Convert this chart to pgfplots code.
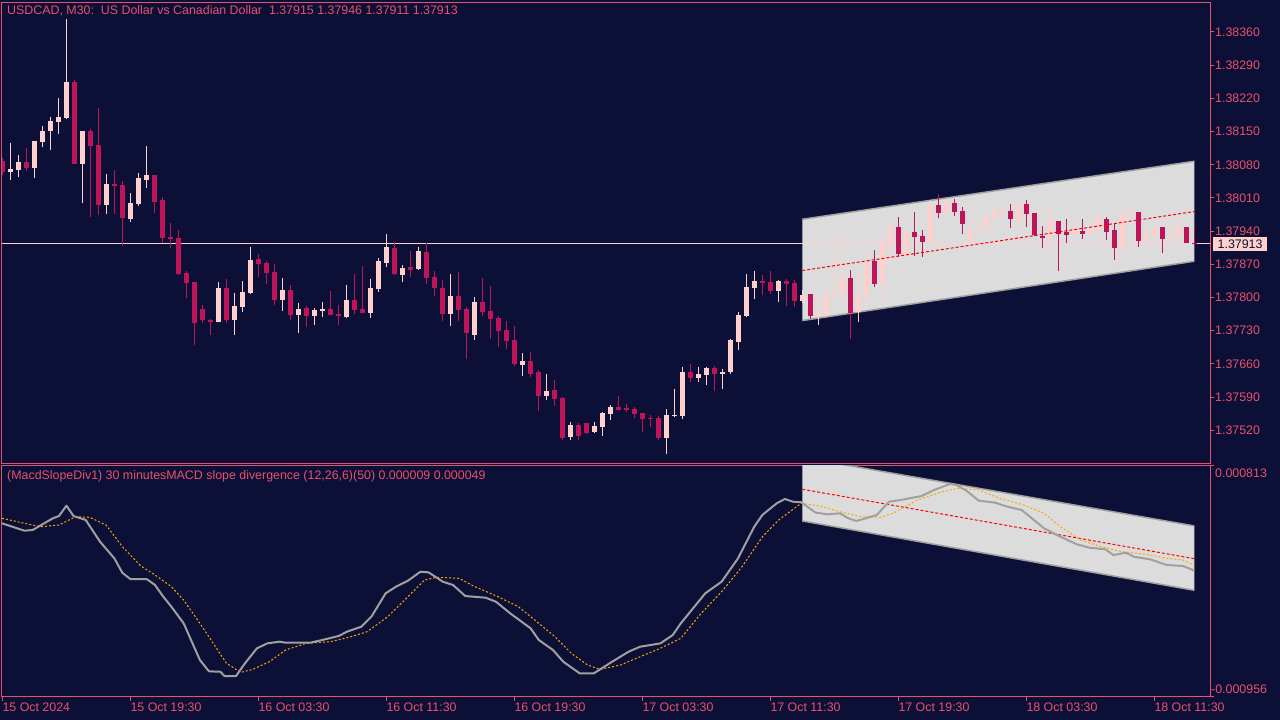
\documentclass[border=0pt]{standalone}
\usepackage{fontspec}
\setmainfont{Liberation Sans}
\usepackage{pgfplots}
\usepackage{pgfplotstable}
\pgfplotsset{compat=1.18}
\definecolor{bgc}{RGB}{12,16,54}
\definecolor{axc}{RGB}{233,80,110}
\definecolor{bullc}{RGB}{255,208,204}
\definecolor{bearc}{RGB}{192,20,90}
\definecolor{chanc}{RGB}{220,220,220}
\definecolor{edgec}{RGB}{160,160,160}
\definecolor{macdc}{RGB}{160,160,160}
\definecolor{sigc}{RGB}{255,165,0}
\newcommand{\mtfont}{\fontsize{12.4}{14}\selectfont}

% bullish candles (close >= open)
\pgfplotstableread{
k o h l c
1 1.38065 1.38125 1.38047 1.38071
2 1.38068 1.38100 1.38054 1.38085
4 1.38073 1.38130 1.38052 1.38130
5 1.38128 1.38161 1.38118 1.38151
6 1.38151 1.38180 1.38111 1.38172
7 1.38170 1.38220 1.38145 1.38180
8 1.38178 1.38388 1.38176 1.38254
10 1.38082 1.38151 1.37999 1.38151
13 1.37995 1.38060 1.37976 1.38039
16 1.37965 1.38020 1.37959 1.37999
17 1.37997 1.38062 1.37993 1.38052
18 1.38047 1.38120 1.38031 1.38059
27 1.37748 1.37832 1.37748 1.37820
29 1.37752 1.37809 1.37720 1.37782
30 1.37779 1.37834 1.37769 1.37811
31 1.37809 1.37906 1.37807 1.37879
35 1.37794 1.37841 1.37771 1.37815
37 1.37763 1.37788 1.37725 1.37775
39 1.37760 1.37777 1.37741 1.37773
40 1.37771 1.37790 1.37758 1.37775
43 1.37758 1.37826 1.37756 1.37794
46 1.37767 1.37839 1.37756 1.37820
47 1.37817 1.37883 1.37811 1.37876
48 1.37872 1.37935 1.37864 1.37906
50 1.37847 1.37868 1.37832 1.37862
52 1.37860 1.37906 1.37858 1.37898
56 1.37765 1.37849 1.37739 1.37803
59 1.37722 1.37801 1.37710 1.37790
65 1.37657 1.37682 1.37634 1.37666
68 1.37592 1.37638 1.37583 1.37602
71 1.37505 1.37537 1.37499 1.37531
74 1.37516 1.37537 1.37514 1.37528
75 1.37526 1.37558 1.37509 1.37556
76 1.37554 1.37573 1.37541 1.37569
83 1.37503 1.37564 1.37469 1.37552
84 1.37550 1.37607 1.37547 1.37552
85 1.37550 1.37653 1.37543 1.37642
87 1.37630 1.37653 1.37621 1.37638
88 1.37636 1.37653 1.37615 1.37651
90 1.37638 1.37649 1.37607 1.37642
91 1.37642 1.37712 1.37638 1.37710
92 1.37706 1.37769 1.37689 1.37763
93 1.37760 1.37849 1.37758 1.37822
94 1.37820 1.37855 1.37796 1.37834
97 1.37813 1.37836 1.37790 1.37834
100 1.37792 1.37815 1.37788 1.37805
102 1.37760 1.37801 1.37741 1.37767
103 1.37763 1.37830 1.37758 1.37805
104 1.37803 1.37940 1.37801 1.37809
105 1.37809 1.37931 1.37792 1.37841
107 1.37769 1.37858 1.37748 1.37805
108 1.37803 1.37898 1.37784 1.37872
110 1.37830 1.37925 1.37794 1.37917
111 1.37914 1.37973 1.37874 1.37948
113 1.37889 1.37942 1.37883 1.37938
116 1.37917 1.38005 1.37917 1.37995
118 1.37978 1.38005 1.37978 1.38001
121 1.37919 1.37967 1.37917 1.37942
122 1.37942 1.37963 1.37940 1.37946
123 1.37944 1.37978 1.37942 1.37969
124 1.37969 1.37988 1.37946 1.37984
125 1.37978 1.37992 1.37961 1.37984
127 1.37963 1.38001 1.37952 1.37997
131 1.37927 1.37992 1.37889 1.37963
134 1.37931 1.37973 1.37931 1.37946
136 1.37935 1.37957 1.37931 1.37948
137 1.37942 1.37976 1.37925 1.37967
140 1.37904 1.37988 1.37896 1.37973
141 1.37973 1.38007 1.37967 1.37980
143 1.37919 1.37948 1.37906 1.37931
144 1.37931 1.37952 1.37921 1.37946
146 1.37925 1.37961 1.37914 1.37931
147 1.37927 1.37973 1.37925 1.37950
}\bull

% bearish candles (close < open)
\pgfplotstableread{
k o h l c
0 1.38087 1.38094 1.38058 1.38065
3 1.38085 1.38115 1.38066 1.38073
9 1.38254 1.38258 1.38081 1.38082
11 1.38151 1.38155 1.37970 1.38120
12 1.38121 1.38199 1.37973 1.37995
14 1.38040 1.38068 1.37976 1.38035
15 1.38037 1.38045 1.37909 1.37968
19 1.38059 1.38059 1.37978 1.38002
20 1.38005 1.38012 1.37914 1.37925
21 1.37928 1.37957 1.37904 1.37923
22 1.37926 1.37942 1.37847 1.37849
23 1.37851 1.37855 1.37798 1.37831
24 1.37832 1.37832 1.37699 1.37746
25 1.37775 1.37784 1.37746 1.37752
26 1.37753 1.37754 1.37722 1.37748
28 1.37820 1.37839 1.37746 1.37752
32 1.37881 1.37891 1.37843 1.37870
33 1.37872 1.37876 1.37828 1.37851
34 1.37853 1.37870 1.37784 1.37794
36 1.37815 1.37826 1.37752 1.37763
38 1.37777 1.37782 1.37737 1.37760
41 1.37775 1.37813 1.37763 1.37763
42 1.37765 1.37784 1.37741 1.37760
44 1.37794 1.37849 1.37765 1.37773
45 1.37775 1.37866 1.37767 1.37767
49 1.37904 1.37917 1.37847 1.37849
51 1.37864 1.37898 1.37843 1.37858
53 1.37896 1.37914 1.37828 1.37841
54 1.37843 1.37855 1.37803 1.37820
55 1.37820 1.37836 1.37750 1.37765
57 1.37803 1.37853 1.37750 1.37773
58 1.37775 1.37779 1.37670 1.37725
60 1.37790 1.37841 1.37760 1.37769
61 1.37771 1.37824 1.37712 1.37754
62 1.37756 1.37760 1.37695 1.37729
63 1.37731 1.37750 1.37691 1.37708
64 1.37710 1.37739 1.37655 1.37659
66 1.37666 1.37685 1.37632 1.37638
67 1.37642 1.37647 1.37560 1.37592
69 1.37604 1.37626 1.37571 1.37585
70 1.37588 1.37590 1.37499 1.37503
72 1.37531 1.37535 1.37499 1.37509
73 1.37535 1.37535 1.37512 1.37514
77 1.37569 1.37592 1.37562 1.37562
78 1.37566 1.37575 1.37558 1.37562
79 1.37564 1.37569 1.37545 1.37554
80 1.37556 1.37556 1.37516 1.37543
81 1.37545 1.37552 1.37526 1.37543
82 1.37545 1.37550 1.37499 1.37503
86 1.37642 1.37659 1.37621 1.37630
89 1.37651 1.37655 1.37602 1.37638
95 1.37834 1.37847 1.37805 1.37830
96 1.37832 1.37855 1.37807 1.37813
98 1.37834 1.37839 1.37782 1.37828
99 1.37830 1.37836 1.37779 1.37792
101 1.37807 1.37807 1.37755 1.37760
106 1.37841 1.37858 1.37712 1.37767
109 1.37876 1.37900 1.37822 1.37828
112 1.37948 1.37969 1.37885 1.37891
114 1.37938 1.37980 1.37887 1.37927
115 1.37929 1.37942 1.37885 1.37917
117 1.37995 1.38018 1.37967 1.37978
119 1.37999 1.38007 1.37971 1.37980
120 1.37982 1.37990 1.37935 1.37954
126 1.37982 1.37997 1.37946 1.37965
128 1.37997 1.38005 1.37948 1.37976
129 1.37978 1.37978 1.37929 1.37931
130 1.37929 1.37950 1.37904 1.37925
132 1.37961 1.37961 1.37855 1.37933
133 1.37938 1.37965 1.37914 1.37931
135 1.37940 1.37965 1.37923 1.37935
138 1.37965 1.37969 1.37921 1.37938
139 1.37942 1.37957 1.37879 1.37904
142 1.37980 1.37980 1.37906 1.37919
145 1.37948 1.37948 1.37893 1.37923
148 1.37948 1.37948 1.37914 1.37914
149 1.37915 1.37946 1.37911 1.37913
}\bear

% MACD main line
\pgfplotstableread{
x v
-0.04 0.000372
2.77 0.000315
3.80 0.000321
6.33 0.000411
7.08 0.000428
8.02 0.000508
8.90 0.000428
10.42 0.000398
12.21 0.000231
14.00 0.000103
15.00 -0.000008
16.03 -0.000058
18.08 -0.000058
19.08 -0.000102
20.12 -0.000192
21.13 -0.000269
22.67 -0.000397
23.68 -0.000538
24.70 -0.000679
25.83 -0.000766
27.26 -0.000769
27.77 -0.000802
29.21 -0.000802
30.33 -0.000704
31.83 -0.000589
33.12 -0.000551
34.66 -0.000538
35.42 -0.000546
38.46 -0.000546
40.00 -0.000525
42.06 -0.000494
43.08 -0.000461
44.86 -0.000423
46.13 -0.000346
47.92 -0.000166
49.21 -0.000115
50.71 -0.000069
52.26 0.000000
53.28 -0.000005
55.07 -0.000077
56.33 -0.000102
57.87 -0.000187
60.42 -0.000200
61.71 -0.000231
63.48 -0.000320
66.03 -0.000435
67.06 -0.000525
68.83 -0.000602
70.12 -0.000692
72.16 -0.000781
73.95 -0.000781
76.23 -0.000692
78.28 -0.000615
79.71 -0.000577
82.26 -0.000551
83.80 -0.000487
84.81 -0.000397
87.87 -0.000166
89.91 -0.000077
91.96 0.000103
93.99 0.000346
95.00 0.000436
96.80 0.000526
97.82 0.000559
98.83 0.000538
99.86 0.000534
101.65 0.000454
103.18 0.000441
104.71 0.000449
105.73 0.000411
106.75 0.000390
107.51 0.000403
109.30 0.000436
110.83 0.000538
112.36 0.000552
114.91 0.000582
116.45 0.000628
118.48 0.000675
119.25 0.000667
120.52 0.000623
122.06 0.000546
124.10 0.000531
125.62 0.000500
127.41 0.000475
128.68 0.000411
130.21 0.000334
132.26 0.000269
134.30 0.000211
135.83 0.000185
137.87 0.000172
138.90 0.000128
140.42 0.000146
141.45 0.000115
143.48 0.000095
145.52 0.000052
147.57 0.000044
149.00 0.000009
}\macd

% signal line
\pgfplotstableread{
x v
-0.04 0.000411
2.77 0.000372
4.81 0.000346
7.08 0.000359
9.15 0.000423
10.93 0.000418
12.96 0.000359
15.01 0.000192
17.31 0.000044
19.08 -0.000025
21.13 -0.000115
22.67 -0.000218
24.70 -0.000397
26.23 -0.000538
28.02 -0.000704
29.81 -0.000774
31.33 -0.000751
33.38 -0.000692
35.42 -0.000602
37.96 -0.000551
41.03 -0.000538
43.58 -0.000500
45.62 -0.000461
48.18 -0.000346
50.71 -0.000192
52.77 -0.000064
54.30 -0.000043
57.11 -0.000051
58.90 -0.000110
61.96 -0.000192
64.51 -0.000269
66.55 -0.000371
69.08 -0.000500
71.13 -0.000628
73.18 -0.000718
74.71 -0.000751
77.26 -0.000718
79.71 -0.000654
82.26 -0.000589
84.81 -0.000512
87.36 -0.000320
89.91 -0.000154
92.46 0.000038
95.01 0.000269
97.06 0.000398
99.86 0.000526
102.16 0.000505
104.71 0.000461
107.26 0.000423
109.81 0.000418
111.33 0.000449
114.41 0.000552
117.46 0.000615
119.51 0.000641
122.06 0.000628
124.61 0.000565
127.67 0.000513
130.21 0.000449
132.26 0.000346
134.81 0.000244
137.36 0.000192
139.91 0.000154
142.97 0.000134
145.52 0.000103
147.57 0.000090
149.00 0.000049
}\signal

\begin{document}
\begin{tikzpicture}
\fill[bgc] (0,0) rectangle (1280pt,720pt);
\pgfplotsset{
  mtaxis/.style={
    scale only axis, width=1208pt,
    xmin=-0.041, xmax=150.96,
    axis line style={axc, line width=1pt},
    tick style={axc, line width=1pt},
    tick align=outside, major tick length=4pt,
    ytick pos=right, yticklabel pos=right,
    ticklabel style={text=axc, font=\mtfont},
    yticklabel style={anchor=west, inner sep=0pt, xshift=1pt},
    scaled y ticks=false,
    clip mode=individual,
  },
  wick/.style={draw=none, mark=none, forget plot, error bars/.cd, y dir=plus, y explicit, error mark=none,
    error bar style={line width=1pt, draw=#1, solid}},
  body/.style={draw=none, mark=none, forget plot, error bars/.cd, y dir=plus, y explicit, error mark=none,
    error bar style={line width=5pt, draw=#1, solid}},
}
% ---------- price panel ----------
\begin{axis}[mtaxis, at={(2pt,256.7pt)}, anchor=south west, height=461pt,
  ymin=1.374504, ymax=1.384226,
  xtick=\empty,
  ytick={1.3752,1.3759,1.3766,1.3773,1.3780,1.3787,1.3794,1.3801,1.3808,1.3815,1.3822,1.3829,1.3836},
  yticklabels={1.37520,1.37590,1.37660,1.37730,1.37800,1.37870,1.37940,1.38010,1.38080,1.38150,1.38220,1.38290,1.38360},
]
\addplot[fill=chanc, draw=none] coordinates {(100,1.37965) (149,1.380874) (149,1.378765) (100,1.377514)} -- cycle;
\addplot[edgec, line width=1.5pt] coordinates {(100,1.37965) (149,1.380874)};
\addplot[edgec, line width=1.5pt] coordinates {(100,1.377514) (149,1.378765)};
\addplot[bullc, line width=1pt] coordinates {(-0.041,1.37913) (150.96,1.37913)};
\addplot[wick=bullc] table[x=k, y=l, y error plus expr=\thisrow{h}-\thisrow{l}] {\bull};
\addplot[body=bullc] table[x=k, y=o, y error plus expr={max(\thisrow{c}-\thisrow{o},0.000021)}] {\bull};
\addplot[wick=bearc] table[x=k, y=l, y error plus expr=\thisrow{h}-\thisrow{l}] {\bear};
\addplot[body=bearc] table[x=k, y=c, y error plus expr={max(\thisrow{o}-\thisrow{c},0.000021)}] {\bear};
\addplot[red, line width=1pt, dash pattern=on 3pt off 2pt] coordinates {(100,1.378569) (149,1.379813)};
\node[anchor=west, fill=bullc, text=bgc, font=\mtfont, inner xsep=4.5pt, inner ysep=0pt, minimum height=14pt]
  at (axis cs:150.96,1.37913) [xshift=3pt] {1.37913};
\end{axis}
% ---------- MACD panel ----------
\begin{axis}[mtaxis, at={(2pt,23.3pt)}, anchor=south west, height=231pt,
  ymin=-0.000961, ymax=0.000815,
  xtick={0,16,32,48,64,80,96,112,128,144},
  xticklabels={15 Oct 2024,15 Oct 19:30,16 Oct 03:30,16 Oct 11:30,16 Oct 19:30,17 Oct 03:30,17 Oct 11:30,17 Oct 19:30,18 Oct 03:30,18 Oct 11:30},
  xtick pos=left, xticklabel pos=left,
  xticklabel style={anchor=north west, inner sep=0pt, xshift=0pt, yshift=-2pt},
  ytick={-0.000956,0.000813}, yticklabels={},
]
\addplot[fill=chanc, draw=none] coordinates {(100,0.000878) (149,0.000352) (149,-0.000143) (100,0.000390)} -- cycle;
\addplot[edgec, line width=1.5pt] coordinates {(100,0.000878) (149,0.000352)};
\addplot[edgec, line width=1.5pt] coordinates {(100,0.000390) (149,-0.000143)};
\addplot[red, line width=1pt, dash pattern=on 3pt off 2pt] coordinates {(100,0.000634) (149,0.000100)};
\addplot[sigc, line width=1pt, dash pattern=on 2pt off 2pt] table[x=x, y=v] {\signal};
\addplot[macdc, line width=2pt, line join=round] table[x=x, y=v] {\macd};
\end{axis}
\node[anchor=west, text=axc, font=\mtfont, inner sep=0pt] at (1215pt,247pt) {0.000813};
\node[anchor=west, text=axc, font=\mtfont, inner sep=0pt] at (1211pt,30.5pt) {-0.000956};
\node[anchor=west, text=axc, font=\mtfont, inner sep=0pt] at (7pt,709pt)
  {USDCAD, M30:\ \ US Dollar vs Canadian Dollar\ \ 1.37915 1.37946 1.37911 1.37913};
\node[anchor=west, text=axc, font=\mtfont, inner sep=0pt] at (7pt,244pt)
  {(MacdSlopeDiv1) 30 minutesMACD slope divergence (12,26,6)(50) 0.000009 0.000049};
\end{tikzpicture}
\end{document}
